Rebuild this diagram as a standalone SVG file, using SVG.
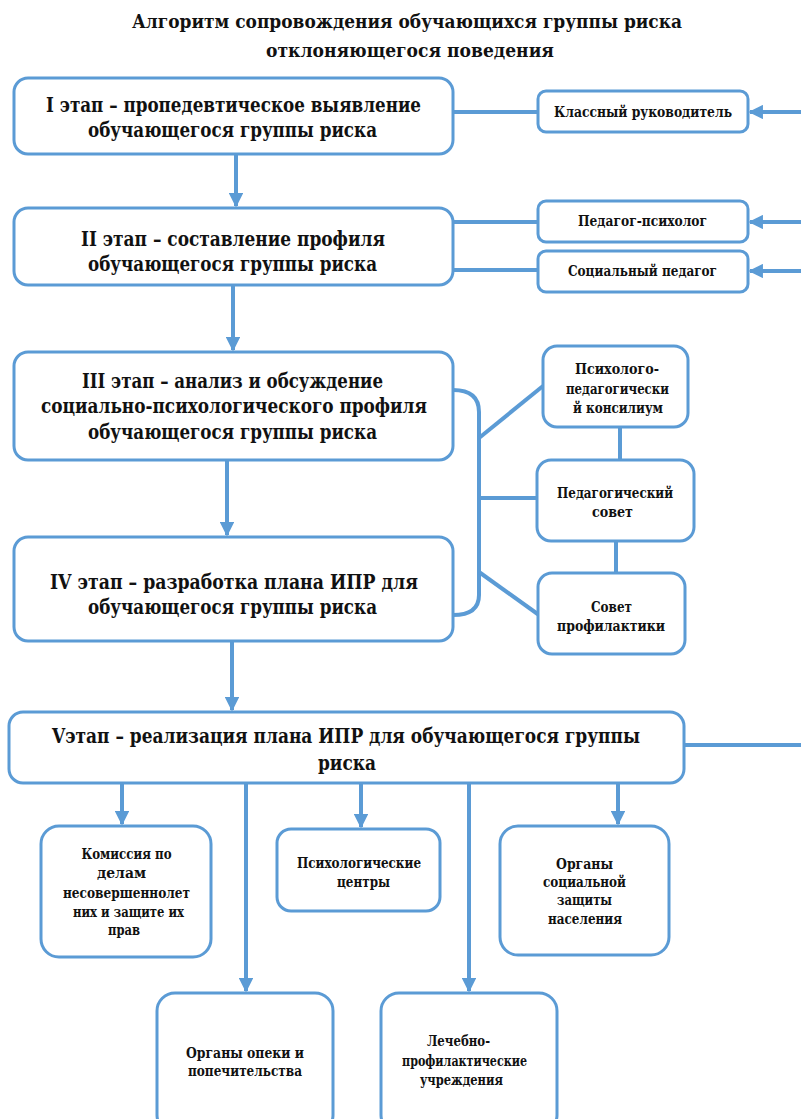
<svg xmlns="http://www.w3.org/2000/svg" width="801" height="1119" viewBox="0 0 801 1119">
<defs>
<style>
.box{fill:#fff;stroke:#5b9bd5;stroke-width:3}
.ln{fill:none;stroke:#5b9bd5;stroke-width:4}
text{font-family:'DejaVu Serif','Liberation Serif',serif;font-weight:bold;fill:#111;text-anchor:middle}
.big{font-size:20px}
.title{font-size:19px}
.sm{font-size:15.5px}
</style>
<marker id="ah" viewBox="0 0 10 10" refX="9" refY="5" markerWidth="3.6" markerHeight="3.6" orient="auto" markerUnits="strokeWidth">
<path d="M0,0 L10,5 L0,10 z" fill="#5b9bd5"/>
</marker>
</defs>
<rect width="801" height="1119" fill="#fff"/>
<g id="title">
<text class="title" x="407" y="28" textLength="550" lengthAdjust="spacingAndGlyphs">Алгоритм сопровождения обучающихся группы риска</text>
<text class="title" x="410" y="57" textLength="288" lengthAdjust="spacingAndGlyphs">отклоняющегося поведения</text>
</g>
<g id="connectors">
<line class="ln" x1="236" y1="154" x2="236" y2="206" marker-end="url(#ah)"/>
<line class="ln" x1="233" y1="285" x2="233" y2="350" marker-end="url(#ah)"/>
<line class="ln" x1="227" y1="460" x2="227" y2="535" marker-end="url(#ah)"/>
<line class="ln" x1="232" y1="641" x2="232" y2="710" marker-end="url(#ah)"/>
<line class="ln" x1="453" y1="112" x2="538" y2="112"/>
<line class="ln" x1="801" y1="112" x2="750" y2="112" marker-end="url(#ah)"/>
<line class="ln" x1="453" y1="222" x2="538" y2="222"/>
<line class="ln" x1="453" y1="270" x2="538" y2="270"/>
<line class="ln" x1="801" y1="222" x2="750" y2="222" marker-end="url(#ah)"/>
<line class="ln" x1="801" y1="271" x2="750" y2="271" marker-end="url(#ah)"/>
<path class="ln" d="M453,390 Q479,390 479,412 L479,595 Q479,615 453,615"/>
<line class="ln" x1="479" y1="438" x2="543" y2="386"/>
<line class="ln" x1="479" y1="498" x2="538" y2="498"/>
<line class="ln" x1="479" y1="572" x2="539" y2="615"/>
<line class="ln" x1="620" y1="427" x2="620" y2="460"/>
<line class="ln" x1="616" y1="541" x2="616" y2="573"/>
<line class="ln" x1="684" y1="745" x2="801" y2="745"/>
<line class="ln" x1="122" y1="783" x2="122" y2="824" marker-end="url(#ah)"/>
<line class="ln" x1="246" y1="783" x2="246" y2="991" marker-end="url(#ah)"/>
<line class="ln" x1="361" y1="783" x2="361" y2="827" marker-end="url(#ah)"/>
<line class="ln" x1="469" y1="783" x2="469" y2="991" marker-end="url(#ah)"/>
<line class="ln" x1="618" y1="783" x2="618" y2="824" marker-end="url(#ah)"/>
</g>
<g id="stage1">
<rect class="box" x="14" y="78" width="439" height="76" rx="14"/>
<text class="big" x="233.5" y="112" textLength="375" lengthAdjust="spacingAndGlyphs">I этап – пропедевтическое выявление</text>
<text class="big" x="232.5" y="137" textLength="289" lengthAdjust="spacingAndGlyphs">обучающегося группы риска</text>
</g>
<g id="classruk">
<rect class="box" x="538" y="91" width="210" height="41" rx="8"/>
<text class="sm" x="643" y="117" textLength="178" lengthAdjust="spacingAndGlyphs">Классный руководитель</text>
</g>
<g id="stage2">
<rect class="box" x="14" y="208" width="439" height="77" rx="14"/>
<text class="big" x="233" y="246" textLength="304" lengthAdjust="spacingAndGlyphs">II этап – составление профиля</text>
<text class="big" x="232.5" y="271" textLength="289" lengthAdjust="spacingAndGlyphs">обучающегося группы риска</text>
</g>
<g id="pedpsy">
<rect class="box" x="538" y="201" width="210" height="41" rx="8"/>
<text class="sm" x="642.5" y="226" textLength="129" lengthAdjust="spacingAndGlyphs">Педагог-психолог</text>
</g>
<g id="socped">
<rect class="box" x="538" y="251" width="210" height="41" rx="8"/>
<text class="sm" x="642.5" y="276" textLength="149" lengthAdjust="spacingAndGlyphs">Социальный педагог</text>
</g>
<g id="stage3">
<rect class="box" x="14" y="352" width="439" height="108" rx="14"/>
<text class="big" x="232.5" y="388" textLength="301" lengthAdjust="spacingAndGlyphs">III этап – анализ и обсуждение</text>
<text class="big" x="234" y="413" textLength="386" lengthAdjust="spacingAndGlyphs">социально-психологического профиля</text>
<text class="big" x="232.5" y="439" textLength="289" lengthAdjust="spacingAndGlyphs">обучающегося группы риска</text>
</g>
<g id="stage4">
<rect class="box" x="14" y="537" width="439" height="104" rx="14"/>
<text class="big" x="234" y="589" textLength="368" lengthAdjust="spacingAndGlyphs">IV этап – разработка плана ИПР для</text>
<text class="big" x="232.5" y="614" textLength="289" lengthAdjust="spacingAndGlyphs">обучающегося группы риска</text>
</g>
<g id="ppk">
<rect class="box" x="543" y="346" width="145" height="81" rx="14"/>
<text class="sm" x="617" y="374" textLength="84" lengthAdjust="spacingAndGlyphs">Психолого-</text>
<text class="sm" x="617.5" y="394" textLength="103" lengthAdjust="spacingAndGlyphs">педагогически</text>
<text class="sm" x="618" y="413" textLength="90" lengthAdjust="spacingAndGlyphs">й консилиум</text>
</g>
<g id="pedsovet">
<rect class="box" x="537" y="460" width="157" height="81" rx="14"/>
<text class="sm" x="615" y="498" textLength="116" lengthAdjust="spacingAndGlyphs">Педагогический</text>
<text class="sm" x="612.5" y="517" textLength="41" lengthAdjust="spacingAndGlyphs">совет</text>
</g>
<g id="sovprof">
<rect class="box" x="538" y="573" width="147" height="81" rx="14"/>
<text class="sm" x="611.5" y="612" textLength="41" lengthAdjust="spacingAndGlyphs">Совет</text>
<text class="sm" x="611" y="631" textLength="108" lengthAdjust="spacingAndGlyphs">профилактики</text>
</g>
<g id="stage5">
<rect class="box" x="9" y="712" width="675" height="71" rx="14"/>
<text class="big" x="346" y="743" textLength="588" lengthAdjust="spacingAndGlyphs">Vэтап – реализация плана ИПР для обучающегося группы</text>
<text class="big" x="347" y="770" textLength="58" lengthAdjust="spacingAndGlyphs">риска</text>
</g>
<g id="kdn">
<rect class="box" x="41" y="826" width="170" height="131" rx="18"/>
<text class="sm" x="126.5" y="859" textLength="90" lengthAdjust="spacingAndGlyphs">Комиссия по</text>
<text class="sm" x="121.5" y="878" textLength="49" lengthAdjust="spacingAndGlyphs">делам</text>
<text class="sm" x="126.5" y="898" textLength="127" lengthAdjust="spacingAndGlyphs">несовершеннолет</text>
<text class="sm" x="128.5" y="917" textLength="111" lengthAdjust="spacingAndGlyphs">них и защите их</text>
<text class="sm" x="124" y="935" textLength="32" lengthAdjust="spacingAndGlyphs">прав</text>
</g>
<g id="psycenter">
<rect class="box" x="277" y="829" width="163" height="82" rx="14"/>
<text class="sm" x="359" y="868" textLength="124" lengthAdjust="spacingAndGlyphs">Психологические</text>
<text class="sm" x="363.5" y="887" textLength="53" lengthAdjust="spacingAndGlyphs">центры</text>
</g>
<g id="soczash">
<rect class="box" x="500" y="826" width="169" height="129" rx="18"/>
<text class="sm" x="584.5" y="869" textLength="57" lengthAdjust="spacingAndGlyphs">Органы</text>
<text class="sm" x="584.5" y="887" textLength="83" lengthAdjust="spacingAndGlyphs">социальной</text>
<text class="sm" x="584.5" y="905" textLength="55" lengthAdjust="spacingAndGlyphs">защиты</text>
<text class="sm" x="585" y="924" textLength="74" lengthAdjust="spacingAndGlyphs">населения</text>
</g>
<g id="opeka">
<rect class="box" x="157" y="993" width="176" height="140" rx="18"/>
<text class="sm" x="245" y="1058" textLength="118" lengthAdjust="spacingAndGlyphs">Органы опеки и</text>
<text class="sm" x="245" y="1076" textLength="114" lengthAdjust="spacingAndGlyphs">попечительства</text>
</g>
<g id="lpu">
<rect class="box" x="381" y="993" width="176" height="140" rx="18"/>
<text class="sm" x="458.5" y="1046" textLength="63" lengthAdjust="spacingAndGlyphs">Лечебно-</text>
<text class="sm" x="464.5" y="1066" textLength="125" lengthAdjust="spacingAndGlyphs">профилактические</text>
<text class="sm" x="461.5" y="1085" textLength="83" lengthAdjust="spacingAndGlyphs">учреждения</text>
</g>
</svg>
